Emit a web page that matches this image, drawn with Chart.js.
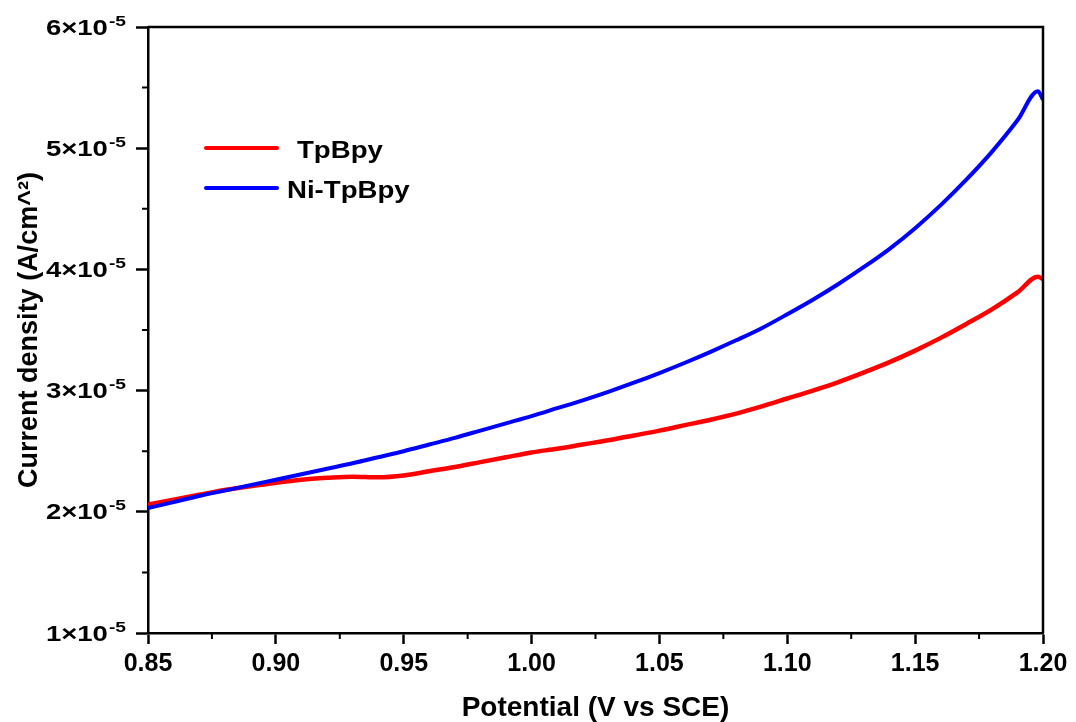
<!DOCTYPE html>
<html>
<head>
<meta charset="utf-8">
<script src="https://cdn.jsdelivr.net/npm/chart.js@4.4.1/dist/chart.umd.min.js"></script>
<style>
  html, body { margin: 0; padding: 0; background: #fff; }
  #wrap { width: 1076px; height: 722px; }
</style>
</head>
<body>
<div id="wrap"><canvas id="lsvChart" width="1076" height="722"></canvas></div>
<script>
// potential in V vs SCE
const potential = [0.85, 0.86, 0.87, 0.88, 0.89, 0.90, 0.91, 0.92, 0.93, 0.94,
                   0.95, 0.96, 0.97, 0.98, 0.99, 1.00, 1.01, 1.02, 1.03, 1.04,
                   1.05, 1.06, 1.07, 1.08, 1.09, 1.10, 1.11, 1.12, 1.13, 1.14,
                   1.15, 1.16, 1.17, 1.18, 1.19, 1.198, 1.20];
// current density, units of 1e-5 A/cm^2
const tpbpyCurrent = [2.06, 2.10, 2.14, 2.18, 2.21, 2.24, 2.265, 2.28, 2.29, 2.285,
                      2.30, 2.335, 2.37, 2.41, 2.45, 2.49, 2.52, 2.555, 2.59, 2.63,
                      2.67, 2.715, 2.76, 2.81, 2.87, 2.935, 3.00, 3.07, 3.15, 3.235,
                      3.33, 3.435, 3.55, 3.67, 3.81, 3.94, 3.92];
const niTpbpyCurrent = [2.03, 2.08, 2.13, 2.175, 2.22, 2.265, 2.31, 2.355, 2.40, 2.45,
                        2.50, 2.555, 2.61, 2.67, 2.73, 2.79, 2.855, 2.92, 2.99, 3.065,
                        3.145, 3.23, 3.32, 3.415, 3.515, 3.63, 3.75, 3.88, 4.02, 4.17,
                        4.34, 4.53, 4.74, 4.97, 5.23, 5.47, 5.40];
const seriesNames = ['TpBpy', 'Ni-TpBpy'];
const seriesColors = ['#ff0000', '#0000ff'];
const yExponent = '-5';

const FONT = '"Liberation Sans", Arial, sans-serif';

function toPoints(ys) {
  return potential.map((v, i) => ({x: v, y: ys[i]}));
}

// box, minor ticks, stretched y labels and the inset legend
const extras = {
  id: 'extras',
  afterDraw(chart) {
    const ctx = chart.ctx;
    const area = chart.chartArea;
    const xs = chart.scales.x, ys = chart.scales.y;
    ctx.save();
    ctx.strokeStyle = '#000';
    ctx.lineWidth = 2.5;
    ctx.beginPath();
    ctx.moveTo(area.left, area.top);
    ctx.lineTo(area.right, area.top);
    ctx.lineTo(area.right, area.bottom);
    ctx.stroke();

    ctx.lineWidth = 2;
    ctx.beginPath();
    for (let i = 0; i < xs.ticks.length - 1; i++) {
      const px = xs.getPixelForValue((xs.ticks[i].value + xs.ticks[i + 1].value) / 2);
      ctx.moveTo(px, area.bottom);
      ctx.lineTo(px, area.bottom + 6);
    }
    for (let i = 0; i < ys.ticks.length - 1; i++) {
      const py = ys.getPixelForValue((ys.ticks[i].value + ys.ticks[i + 1].value) / 2);
      ctx.moveTo(area.left, py);
      ctx.lineTo(area.left - 6, py);
    }
    ctx.stroke();

    // y tick labels like 6×10^-5
    const SX = 1.28;
    ctx.fillStyle = '#000';
    ctx.textBaseline = 'alphabetic';
    ys.ticks.forEach(t => {
      const py = ys.getPixelForValue(t.value);
      const main = t.value + '×10';
      ctx.font = 'bold 21.5px ' + FONT;
      const wMain = ctx.measureText(main).width * SX;
      ctx.font = 'bold 15px ' + FONT;
      const wSup = ctx.measureText(yExponent).width * SX;
      const x0 = 125 - wSup - wMain;
      ctx.save();
      ctx.translate(x0, py + 7.5);
      ctx.scale(SX, 1);
      ctx.font = 'bold 21.5px ' + FONT;
      ctx.fillText(main, 0, 0);
      ctx.restore();
      ctx.save();
      ctx.translate(x0 + wMain + 1, py - 1.5);
      ctx.scale(SX, 1);
      ctx.font = 'bold 15px ' + FONT;
      ctx.fillText(yExponent, 0, 0);
      ctx.restore();
    });

    // legend
    const rows = [148, 188];
    const textX = [297, 287];
    chart.data.datasets.forEach((ds, i) => {
      ctx.strokeStyle = ds.borderColor;
      ctx.lineWidth = 4;
      ctx.lineCap = 'round';
      ctx.beginPath();
      ctx.moveTo(206, rows[i]);
      ctx.lineTo(277, rows[i]);
      ctx.stroke();
      ctx.save();
      ctx.translate(textX[i], rows[i] + 9.5);
      ctx.scale(1.2, 1);
      ctx.font = 'bold 23px ' + FONT;
      ctx.fillStyle = '#000';
      ctx.fillText(ds.label, 0, 0);
      ctx.restore();
    });
    ctx.restore();
  }
};

const ctx = document.getElementById('lsvChart').getContext('2d');
new Chart(ctx, {
  type: 'line',
  data: {
    datasets: [
      {
        label: seriesNames[0],
        data: toPoints(tpbpyCurrent),
        borderColor: seriesColors[0],
        borderWidth: 4.5,
        pointRadius: 0,
        cubicInterpolationMode: 'monotone',
        order: 1
      },
      {
        label: seriesNames[1],
        data: toPoints(niTpbpyCurrent),
        borderColor: seriesColors[1],
        borderWidth: 4,
        pointRadius: 0,
        cubicInterpolationMode: 'monotone',
        order: 0
      }
    ]
  },
  options: {
    responsive: false,
    animation: false,
    layout: {padding: {top: 27, right: 33, left: 0, bottom: 0}},
    plugins: {
      legend: {display: false},
      tooltip: {enabled: false}
    },
    scales: {
      x: {
        type: 'linear',
        min: 0.85,
        max: 1.20,
        ticks: {
          stepSize: 0.05,
          color: '#000',
          padding: 5,
          font: {family: FONT, size: 25, weight: 'bold'},
          callback: v => Number(v).toFixed(2)
        },
        grid: {drawOnChartArea: false, drawTicks: true, tickLength: 11, tickWidth: 2.5, tickColor: '#000'},
        border: {color: '#000', width: 2.5},
        title: {
          display: true,
          text: 'Potential (V vs SCE)',
          color: '#000',
          font: {family: FONT, size: 28, weight: 'bold', lineHeight: 1},
          padding: {top: 1, bottom: 0}
        },
        afterFit: s => { s.height = 89; }
      },
      y: {
        min: 1,
        max: 6,
        ticks: {stepSize: 1, display: false},
        grid: {drawOnChartArea: false, drawTicks: true, tickLength: 12, tickWidth: 2.5, tickColor: '#000'},
        border: {color: '#000', width: 2.5},
        title: {
          display: true,
          text: 'Current density (A/cm^²)',
          color: '#000',
          font: {family: FONT, size: 27, weight: 'bold', lineHeight: 1},
          padding: {top: 16, bottom: 0}
        },
        afterFit: s => { s.width = 148; }
      }
    }
  },
  plugins: [extras]
});
</script>
</body>
</html>
